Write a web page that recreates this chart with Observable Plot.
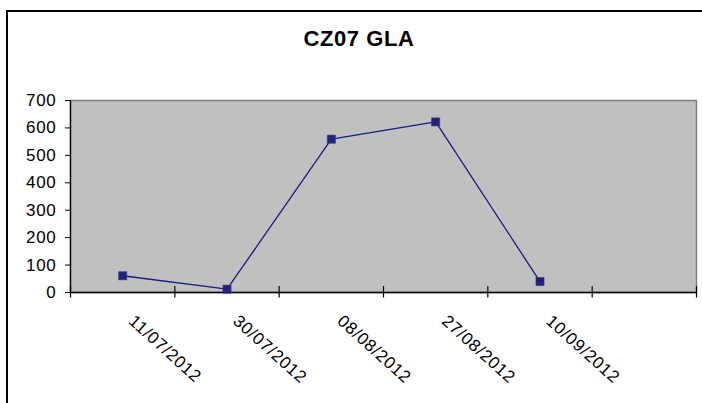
<!DOCTYPE html>
<html>
<head>
<meta charset="utf-8">
<script src="https://cdn.jsdelivr.net/npm/d3@7"></script>
<script src="https://cdn.jsdelivr.net/npm/@observablehq/plot@0.6"></script>
<style>
  html, body { margin: 0; padding: 0; background: #fff; overflow: hidden; }
  #wrap { position: relative; width: 702px; height: 403px; }
  #frame { position: absolute; left: 6px; top: 10px; width: 800px; height: 500px;
           border-left: 2px solid #000; border-top: 2px solid #000; pointer-events: none; }
  #title { position: absolute; left: 359px; top: 28px; transform: translateX(-50%);
           font: bold 22px Arial, "Liberation Sans", sans-serif; line-height: 22px;
           letter-spacing: 0.6px; white-space: nowrap; color: #000; }
</style>
</head>
<body>
<div id="wrap"></div>
<script>
const title = "CZ07 GLA";
const dates = ["11/07/2012", "30/07/2012", "08/08/2012", "27/08/2012", "10/09/2012"];
const values = [61, 12, 559, 622, 40];
const yTicks = [0, 100, 200, 300, 400, 500, 600, 700];
const categoryCount = 6; // five dated categories plus one empty category

const rows = dates.map((d, i) => ({date: d, value: values[i], pos: i + 0.5}));
const boundaries = d3.range(categoryCount + 1);

const chart = Plot.plot({
  width: 702,
  height: 403,
  marginLeft: 70,
  marginRight: 6,
  marginTop: 100,
  marginBottom: 111,
  style: {fontFamily: 'Arial, "Liberation Sans", sans-serif', fontSize: "17px", color: "#000", background: "transparent", letterSpacing: "0.7px"},
  x: {type: "linear", domain: [0, categoryCount], axis: null},
  y: {domain: [0, 700], axis: null},
  marks: [
    Plot.frame({fill: "#c0c0c0", stroke: "#808080", strokeWidth: 1.5}),
    Plot.ruleX(boundaries, {x: d => d, stroke: "#000", strokeWidth: 1.2, insetTop: 186, insetBottom: -5.5}),
    Plot.axisY({ticks: yTicks, tickSize: 5, tickPadding: 9, stroke: "#000", fontSize: 17, label: null, tickFormat: d => String(d)}),
    Plot.ruleX([0], {stroke: "#000", strokeWidth: 1.3}),
    Plot.ruleY([0], {stroke: "#000", strokeWidth: 1.3}),
    Plot.line(rows, {x: "pos", y: "value", stroke: "#1a1a80", strokeWidth: 1.3}),
    Plot.dot(rows, {x: "pos", y: "value", symbol: "square", r: 4.6, fill: "#22227a", stroke: "#3a3a8a", strokeWidth: 0.6}),
    Plot.text(rows, {x: "pos", text: "date", frameAnchor: "bottom", rotate: 42, textAnchor: "start", dx: 5, dy: 30, fontSize: 17, fill: "#000"})
  ]
});

const wrap = document.getElementById("wrap");
wrap.appendChild(chart);
const t = document.createElement("div");
t.id = "title";
t.textContent = title;
wrap.appendChild(t);
const f = document.createElement("div");
f.id = "frame";
wrap.appendChild(f);
</script>
</body>
</html>
